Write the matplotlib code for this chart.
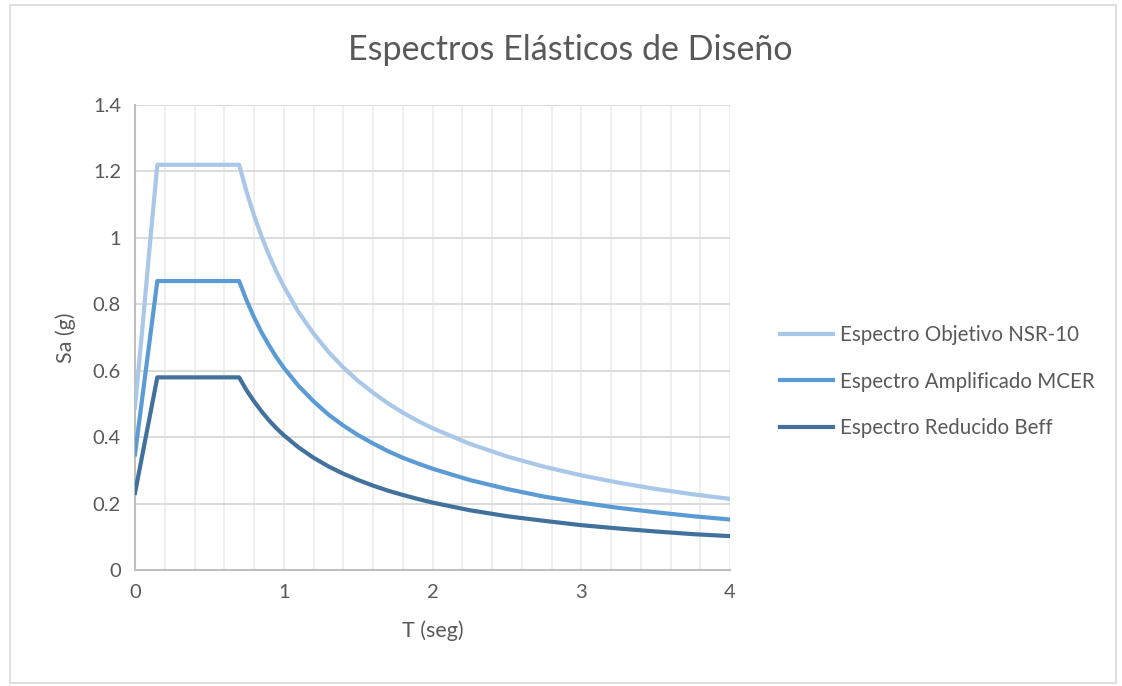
import matplotlib
matplotlib.use("Agg")
import matplotlib.pyplot as plt
from matplotlib.patches import Rectangle
from matplotlib.ticker import MultipleLocator, FuncFormatter

T = [0.0, 0.05, 0.10, 0.15, 0.70, 0.75, 0.80, 0.85, 0.90, 0.95, 1.00,
     1.10, 1.20, 1.30, 1.40, 1.50, 1.60, 1.70, 1.80, 1.90, 2.00,
     2.25, 2.50, 2.75, 3.00, 3.25, 3.50, 3.75, 4.00]
sa_nsr = [0.49, 0.73, 0.98, 1.22, 1.22, 1.139, 1.068, 1.005, 0.949, 0.899, 0.854,
          0.776, 0.712, 0.657, 0.610, 0.569, 0.534, 0.502, 0.474, 0.449, 0.427,
          0.380, 0.342, 0.311, 0.285, 0.263, 0.244, 0.228, 0.214]
sa_mcer = [0.348, 0.522, 0.696, 0.87, 0.87, 0.812, 0.761, 0.716, 0.677, 0.641, 0.609,
           0.554, 0.508, 0.468, 0.435, 0.406, 0.381, 0.358, 0.338, 0.321, 0.305,
           0.271, 0.244, 0.221, 0.203, 0.187, 0.174, 0.162, 0.152]
sa_beff = [0.232, 0.348, 0.464, 0.58, 0.58, 0.541, 0.508, 0.478, 0.451, 0.427, 0.406,
           0.369, 0.338, 0.312, 0.290, 0.271, 0.254, 0.239, 0.226, 0.214, 0.203,
           0.180, 0.162, 0.148, 0.135, 0.125, 0.116, 0.108, 0.102]
labels = ["Espectro Objetivo NSR-10", "Espectro Amplificado MCER", "Espectro Reducido Beff"]
colors = ["#A9C7E8", "#5B9BD5", "#41719C"]

plt.rcParams['font.family'] = ['Lato', 'DejaVu Sans']
txt = "#595959"

fig = plt.figure(figsize=(11.22, 6.86), dpi=100)
fig.patches.append(Rectangle((10/1122, 3/686), 1106/1122, 678/686, transform=fig.transFigure,
                             fill=False, edgecolor="#d9d9d9", linewidth=1.2))
ax = fig.add_axes([135/1122, 1 - 570/686, (730-135)/1122, (570-105)/686])

for ys, lab, c in zip([sa_nsr, sa_mcer, sa_beff], labels, colors):
    ax.plot(T, ys, color=c, linewidth=3, label=lab, solid_joinstyle="round", zorder=3)

ax.set_xlim(0, 4)
ax.set_ylim(0, 1.4)
ax.xaxis.set_major_locator(MultipleLocator(1))
ax.xaxis.set_minor_locator(MultipleLocator(0.2))
ax.yaxis.set_major_locator(MultipleLocator(0.2))
fmt = FuncFormatter(lambda v, p: f"{v:g}")
ax.xaxis.set_major_formatter(fmt)
ax.yaxis.set_major_formatter(fmt)
ax.grid(True, which="minor", axis="x", color="#eeeeee", linewidth=1.3, zorder=0)
ax.grid(True, which="major", axis="x", color="#eeeeee", linewidth=1.3, zorder=0)
ax.grid(True, which="major", axis="y", color="#d9d9d9", linewidth=1.3, zorder=0)
ax.set_axisbelow(True)
for s in ["top", "right"]:
    ax.spines[s].set_visible(False)
for s in ["left", "bottom"]:
    ax.spines[s].set_color("#bfbfbf")
    ax.spines[s].set_linewidth(1.5)
ax.tick_params(which="both", length=0, colors=txt, labelsize=14.5, pad=10)

ax.set_xlabel("T (seg)", fontsize=15.5, color=txt, labelpad=14)
ax.set_ylabel("Sa (g)", fontsize=15.5, color=txt, labelpad=12)
fig.text(570/1122, 1 - 50/686, "Espectros Elásticos de Diseño", ha="center", va="center",
         fontsize=24.5, color=txt)

leg = ax.legend(loc="center left", bbox_to_anchor=(1.053, 0.405), frameon=False, fontsize=14.8,
                handlelength=2.6, handletextpad=0.3, labelspacing=1.3, labelcolor=txt)

fig.savefig("out.png", dpi=100)
